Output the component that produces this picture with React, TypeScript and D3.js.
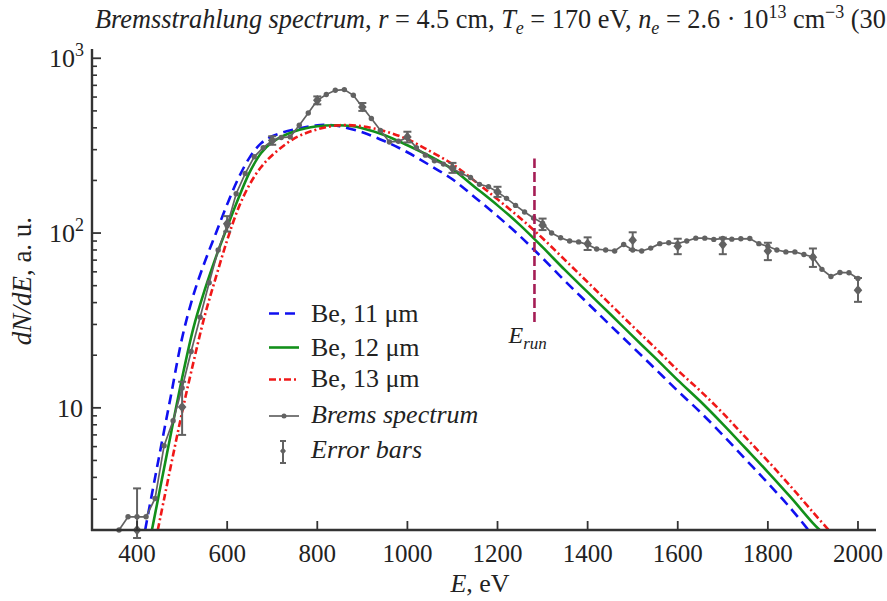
import React from "react";
import * as d3 from "d3";

const W = 887;
const H = 601;

// Model spectra through Be filters (11, 12, 13 µm)
const be11E = [418, 425, 450, 475, 500, 525, 550, 575, 600, 625, 650, 675, 700, 750, 800, 820, 850, 900, 950, 1000, 1050, 1100, 1150, 1200, 1250, 1300, 1350, 1400, 1450, 1500, 1550, 1600, 1650, 1700, 1750, 1800, 1850, 1890];
const be11V = [2.0, 2.5, 5.44, 11.7, 25.1, 44.1, 68.1, 99.8, 146, 206, 271, 326, 358, 392, 414, 416, 408, 377, 335, 290, 244, 203, 160, 125, 95.9, 71.8, 53.1, 39.7, 29.7, 22.3, 16.7, 12.5, 9.45, 6.99, 5.09, 3.71, 2.67, 2.0];

const be12E = [433, 450, 475, 500, 525, 550, 575, 600, 625, 650, 675, 700, 750, 800, 841, 875, 900, 950, 1000, 1050, 1100, 1150, 1200, 1250, 1300, 1350, 1400, 1450, 1500, 1550, 1600, 1650, 1700, 1750, 1800, 1850, 1900, 1915];
const be12V = [2.0, 3.34, 7.08, 14.8, 28.6, 47.1, 72.8, 108, 158, 223, 286, 331, 382, 408, 414, 410, 398, 363, 318, 275, 232, 183, 144, 111, 83.0, 61.3, 45.9, 34.4, 25.7, 19.3, 14.4, 10.9, 8.07, 5.89, 4.29, 3.09, 2.19, 2.0];

const be13E = [446, 460, 480, 500, 520, 550, 575, 600, 625, 650, 675, 700, 750, 800, 850, 900, 950, 1000, 1050, 1100, 1150, 1200, 1250, 1300, 1350, 1400, 1450, 1500, 1550, 1600, 1650, 1700, 1750, 1800, 1850, 1900, 1935];
const be13V = [2.0, 3.01, 5.37, 9.45, 16.0, 33.5, 55.9, 91.0, 139, 190, 238, 279, 349, 392, 414, 408, 382, 344, 294, 248, 198, 156, 122, 93.4, 70.0, 52.4, 39.2, 29.3, 22.0, 16.4, 12.5, 9.33, 6.80, 4.96, 3.57, 2.53, 2.0];

// Measured bremsstrahlung spectrum
const bremsE = [360, 380, 400, 420, 440, 460, 480, 500, 520, 540, 560, 580, 600, 620, 640, 660, 680, 700, 720, 740, 760, 780, 800, 820, 840, 860, 880, 900, 920, 940, 960, 980, 1000, 1020, 1040, 1060, 1080, 1100, 1120, 1140, 1160, 1180, 1200, 1220, 1240, 1260, 1280, 1300, 1320, 1340, 1360, 1380, 1400, 1420, 1440, 1460, 1480, 1500, 1520, 1540, 1560, 1580, 1600, 1620, 1640, 1660, 1680, 1700, 1720, 1740, 1760, 1780, 1800, 1820, 1840, 1860, 1880, 1900, 1920, 1940, 1960, 1980, 2000];
const bremsV = [2.0, 2.38, 2.38, 2.38, 3.03, 6.07, 8.43, 13, 21, 33, 52, 80, 110, 168, 219, 273, 308, 339, 352, 355, 414, 486, 575, 620, 656, 662, 614, 526, 452, 387, 332, 335, 352, 308, 279, 259, 248, 234, 219, 208, 190, 184, 172, 158, 144, 132, 122, 114, 100, 94, 90, 89, 86, 81, 80, 79, 86, 80, 79, 82, 87, 88, 87, 90, 93.5, 93.5, 92, 93, 92.3, 92.7, 93, 87, 84, 80, 78, 78, 75.4, 73, 62, 56.4, 59.5, 59.3, 55];

// Error bars
const errE = [400, 500, 600, 700, 800, 900, 1000, 1100, 1200, 1300, 1400, 1500, 1600, 1700, 1800, 1900, 2000];
const errV = [2.0, 10.1, 113, 339, 575, 526, 355, 236, 172, 111, 87, 91, 84, 86, 79, 72.8, 47.1];
const errLo = [1.8, 7.0, 102, 320, 545, 500, 330, 221, 161, 104, 80, 80, 75.7, 75.7, 70, 64, 40.4];
const errHi = [3.46, 14.1, 125, 358, 605, 555, 380, 252, 184, 121, 94.5, 101, 92.8, 94.2, 88, 81.6, 55.3];

const xTickValues = [400, 600, 800, 1000, 1200, 1400, 1600, 1800, 2000];
const yMajorTicks = [10, 100, 1000];
const eRun = 1282;
const eRunRange = [31, 267];

const SERIF = '"Liberation Serif", Tinos, "Times New Roman", serif';
const AXIS = "#333333";
const GRAY = "#626262";
const BLUE = "#1010f0";
const GREEN = "#12901a";
const RED = "#f01818";
const ERUN = "#a51d55";
const INK = "#222222";

type P = [number, number];

export default function App() {
  const x = d3.scaleLinear().domain([300, 2040]).range([92, 876]);
  const y = d3.scaleLog().domain([2, 1130]).range([530, 49]);

  const smooth = d3
    .line<P>()
    .x((d) => x(d[0]))
    .y((d) => y(d[1]))
    .curve(d3.curveCatmullRom.alpha(0.5));
  const straight = d3
    .line<P>()
    .x((d) => x(d[0]))
    .y((d) => y(d[1]));

  const zip = (a: number[], b: number[]): P[] => a.map((v, i) => [v, b[i]] as P);
  const blue = smooth(zip(be11E, be11V)) || "";
  const green = smooth(zip(be12E, be12V)) || "";
  const red = smooth(zip(be13E, be13V)) || "";
  const brems = zip(bremsE, bremsV);
  const bremsPath = straight(brems) || "";

  const minor = y.ticks().filter((t) => t > 2.01 && !yMajorTicks.includes(t));

  const diamond = (cx: number, cy: number, r: number) =>
    `M${cx},${cy - r * 1.2}L${cx + r},${cy}L${cx},${cy + r * 1.2}L${cx - r},${cy}Z`;

  const legendX0 = 269;
  const legendX1 = 299;
  const legendTextX = 311;
  const legendRows = [
    { y: 313.5, base: 321.7 },
    { y: 347.5, base: 355.7 },
    { y: 379.5, base: 387.3 },
    { y: 416, base: 423.3 },
    { y: 451, base: 458.3 },
  ];
  const fs = 26;

  return (
    <div style={{ position: "absolute", left: 0, top: 0, width: W, height: H, fontFamily: SERIF, background: "#fff" }}>
      <svg
        width={W}
        height={H}
        viewBox={`0 0 ${W} ${H}`}
        fontFamily={SERIF}
        style={{ display: "block" }}
      >
        <style>{`text, tspan { font-family: "Liberation Serif", Tinos, "Times New Roman", serif; }`}</style>
        <rect x={0} y={0} width={W} height={H} fill="#ffffff" />

        {/* Title */}
        <text x={95} y={28} fontSize={26.3} fill={INK}>
          <tspan fontStyle="italic">{"Bremsstrahlung spectrum"}</tspan>
          <tspan>{", "}</tspan>
          <tspan fontStyle="italic">{"r"}</tspan>
          <tspan>{" = 4.5 cm, "}</tspan>
          <tspan fontStyle="italic">{"T"}</tspan>
          <tspan fontStyle="italic" fontSize={18} dy={6}>{"e"}</tspan>
          <tspan dy={-6}>{" = 170 eV, "}</tspan>
          <tspan fontStyle="italic">{"n"}</tspan>
          <tspan fontStyle="italic" fontSize={18} dy={6}>{"e"}</tspan>
          <tspan dy={-6}>{" = 2.6 · 10"}</tspan>
          <tspan fontSize={18} dy={-10}>{"13"}</tspan>
          <tspan dy={10}>{" cm"}</tspan>
          <tspan fontSize={18} dy={-10}>{"−3"}</tspan>
          <tspan dy={10}>{" (30"}</tspan>
        </text>

        {/* Model curves */}
        <path d={blue} fill="none" stroke={BLUE} strokeWidth={2.6} strokeDasharray="10,6" />
        <path d={green} fill="none" stroke={GREEN} strokeWidth={2.6} />
        <path d={red} fill="none" stroke={RED} strokeWidth={2.6} strokeDasharray="7,3,2,3" />

        {/* Measured spectrum */}
        <path d={bremsPath} fill="none" stroke={GRAY} strokeWidth={1.7} />
        {brems.map((d, i) => (
          <circle key={"b" + i} cx={x(d[0])} cy={y(d[1])} r={2.7} fill={GRAY} />
        ))}

        {/* Error bars */}
        {errE.map((e, i) => {
          const cx = x(e);
          const y0 = y(errLo[i]);
          const y1 = y(errHi[i]);
          return (
            <g key={"e" + i} stroke={GRAY} fill={GRAY}>
              <line x1={cx} x2={cx} y1={y0} y2={y1} strokeWidth={2} />
              <line x1={cx - 4} x2={cx + 4} y1={y0} y2={y0} strokeWidth={2} />
              <line x1={cx - 4} x2={cx + 4} y1={y1} y2={y1} strokeWidth={2} />
              <path d={diamond(cx, y(errV[i]), 4.3)} stroke="none" />
            </g>
          );
        })}

        {/* E_run marker */}
        <line
          x1={x(eRun)}
          x2={x(eRun)}
          y1={y(eRunRange[0])}
          y2={y(eRunRange[1])}
          stroke={ERUN}
          strokeWidth={2.6}
          strokeDasharray="10,4"
        />
        <text x={x(eRun) - 26} y={343} fontSize={24} fill={INK} fontStyle="italic">
          <tspan>{"E"}</tspan>
          <tspan fontSize={17} dy={6}>{"run"}</tspan>
        </text>

        {/* Axes */}
        <line x1={92} x2={92} y1={49} y2={531} stroke={AXIS} strokeWidth={2.4} />
        <line x1={91} x2={876} y1={530} y2={530} stroke={AXIS} strokeWidth={2.4} />

        {yMajorTicks.map((t) => (
          <line key={"ym" + t} x1={92} x2={101} y1={y(t)} y2={y(t)} stroke={AXIS} strokeWidth={1.8} />
        ))}
        {minor.map((t) => (
          <line key={"yn" + t} x1={92} x2={97} y1={y(t)} y2={y(t)} stroke={AXIS} strokeWidth={1.6} />
        ))}
        {xTickValues.map((t) => (
          <line key={"xt" + t} x1={x(t)} x2={x(t)} y1={530} y2={521} stroke={AXIS} strokeWidth={1.8} />
        ))}

        {xTickValues.map((t) => (
          <text key={"xl" + t} x={x(t)} y={562} fontSize={25} textAnchor="middle" fill={INK}>
            {String(t)}
          </text>
        ))}

        {/* Y tick labels */}
        <text x={84} y={y(1000) + 9} fontSize={26} textAnchor="end" fill={INK}>
          <tspan>{"10"}</tspan>
          <tspan fontSize={18} dy={-11}>{"3"}</tspan>
        </text>
        <text x={84} y={y(100) + 9} fontSize={26} textAnchor="end" fill={INK}>
          <tspan>{"10"}</tspan>
          <tspan fontSize={18} dy={-11}>{"2"}</tspan>
        </text>
        <text x={83} y={y(10) + 9} fontSize={26} textAnchor="end" fill={INK}>
          {"10"}
        </text>

        {/* Axis titles */}
        <text x={480} y={592} fontSize={26} textAnchor="middle" fill={INK}>
          <tspan fontStyle="italic">{"E"}</tspan>
          <tspan>{", eV"}</tspan>
        </text>
        <text transform="translate(31,281) rotate(-90)" fontSize={27} textAnchor="middle" fill={INK}>
          <tspan fontStyle="italic">{"dN/dE"}</tspan>
          <tspan>{", a. u."}</tspan>
        </text>

        {/* Legend */}
        <line x1={legendX0} x2={legendX1} y1={legendRows[0].y} y2={legendRows[0].y} stroke={BLUE} strokeWidth={2.6} strokeDasharray="10,6" />
        <line x1={legendX0} x2={legendX1} y1={legendRows[1].y} y2={legendRows[1].y} stroke={GREEN} strokeWidth={2.6} />
        <line x1={legendX0} x2={legendX1} y1={legendRows[2].y} y2={legendRows[2].y} stroke={RED} strokeWidth={2.6} strokeDasharray="7,3,2,3" />
        <line x1={legendX0} x2={legendX1} y1={legendRows[3].y} y2={legendRows[3].y} stroke={GRAY} strokeWidth={1.7} />
        <circle cx={(legendX0 + legendX1) / 2} cy={legendRows[3].y} r={2.5} fill={GRAY} />
        <g stroke={GRAY} fill={GRAY}>
          <line x1={283} x2={283} y1={legendRows[4].y - 10} y2={legendRows[4].y + 12} strokeWidth={2} />
          <line x1={280} x2={286} y1={legendRows[4].y - 10} y2={legendRows[4].y - 10} strokeWidth={2} />
          <line x1={280} x2={286} y1={legendRows[4].y + 12} y2={legendRows[4].y + 12} strokeWidth={2} />
          <path d={diamond(283, legendRows[4].y, 3)} stroke="none" />
        </g>

        <text x={legendTextX} y={legendRows[0].base} fontSize={fs} fill={INK}>{"Be, 11 μm"}</text>
        <text x={legendTextX} y={legendRows[1].base} fontSize={fs} fill={INK}>{"Be, 12 μm"}</text>
        <text x={legendTextX} y={legendRows[2].base} fontSize={fs} fill={INK}>{"Be, 13 μm"}</text>
        <text x={legendTextX} y={legendRows[3].base} fontSize={fs} fill={INK} fontStyle="italic">{"Brems spectrum"}</text>
        <text x={legendTextX} y={legendRows[4].base} fontSize={fs} fill={INK} fontStyle="italic">{"Error bars"}</text>
      </svg>
    </div>
  );
}
